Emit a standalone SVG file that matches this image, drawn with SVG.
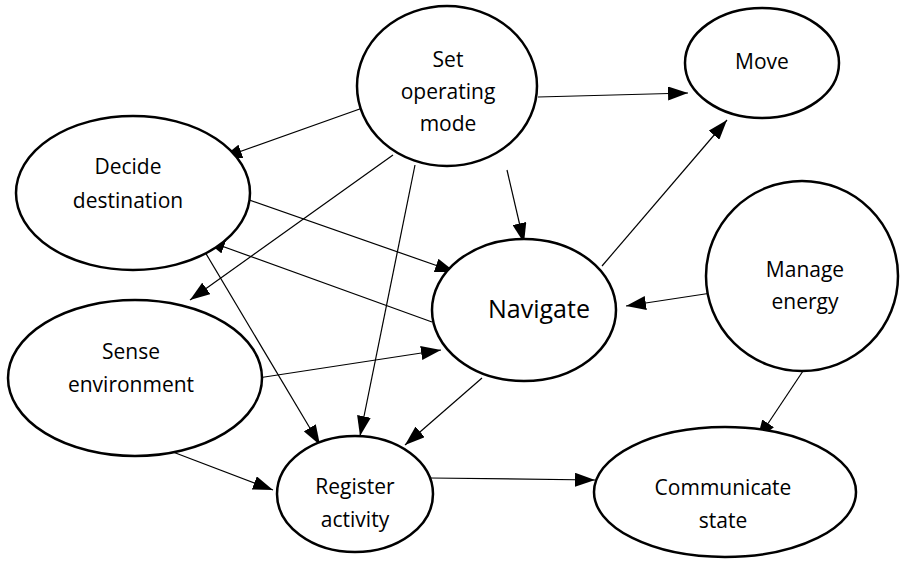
<svg xmlns="http://www.w3.org/2000/svg" width="912" height="564" viewBox="0 0 912 564">
<defs>
<marker id="arr" markerWidth="20" markerHeight="14" refX="20" refY="7" orient="auto" markerUnits="userSpaceOnUse">
<path d="M0,0 L20,7 L0,14 Z" fill="#000"/>
</marker>
<style>
.n ellipse{fill:#fff;stroke:#000;stroke-width:2.5}
.n text{font-family:"Open Sans","Noto Sans",sans-serif;font-size:21px;text-anchor:middle;fill:#000}
.c line{stroke:#000;stroke-width:1.2;marker-end:url(#arr)}
</style>
</defs>
<rect width="912" height="564" fill="#fff"/>
<g class="c" id="connectors">
<line x1="385" y1="100" x2="222" y2="158"/>
<line x1="538" y1="97" x2="688" y2="93"/>
<line x1="393" y1="155" x2="190" y2="300"/>
<line x1="415" y1="165" x2="360" y2="436"/>
<line x1="507" y1="170" x2="524" y2="243"/>
<line x1="235" y1="195" x2="455" y2="272"/>
<line x1="432" y1="322" x2="205" y2="240"/>
<line x1="205" y1="252" x2="320" y2="445"/>
<line x1="602" y1="266" x2="727" y2="120"/>
<line x1="718" y1="292" x2="626" y2="306"/>
<line x1="258" y1="378" x2="441" y2="350"/>
<line x1="482" y1="378" x2="405" y2="445"/>
<line x1="165" y1="449" x2="273" y2="490"/>
<line x1="430" y1="478" x2="595" y2="480"/>
<line x1="805" y1="368" x2="757" y2="440"/>
</g>
<g class="n" id="set-operating-mode"><ellipse cx="447" cy="86" rx="90" ry="80"/><text x="448" y="67">Set</text><text x="448" y="99">operating</text><text x="448" y="131">mode</text></g>
<g class="n" id="move"><ellipse cx="762" cy="63" rx="77" ry="55"/><text x="762" y="69">Move</text></g>
<g class="n" id="decide-destination"><ellipse cx="133" cy="193" rx="117" ry="77"/><text x="128" y="174">Decide</text><text x="128" y="208">destination</text></g>
<g class="n" id="navigate"><ellipse cx="524" cy="310" rx="92" ry="71"/><text x="539" y="318" style="font-size:25px">Navigate</text></g>
<g class="n" id="manage-energy"><ellipse cx="802" cy="276" rx="96" ry="95"/><text x="805" y="277">Manage</text><text x="805" y="309">energy</text></g>
<g class="n" id="sense-environment"><ellipse cx="135" cy="378" rx="127" ry="78"/><text x="131" y="359">Sense</text><text x="131" y="392">environment</text></g>
<g class="n" id="register-activity"><ellipse cx="355" cy="494" rx="78" ry="58"/><text x="355" y="494">Register</text><text x="355" y="527">activity</text></g>
<g class="n" id="communicate-state"><ellipse cx="725" cy="492" rx="131" ry="65"/><text x="723" y="495">Communicate</text><text x="723" y="528">state</text></g>
</svg>
